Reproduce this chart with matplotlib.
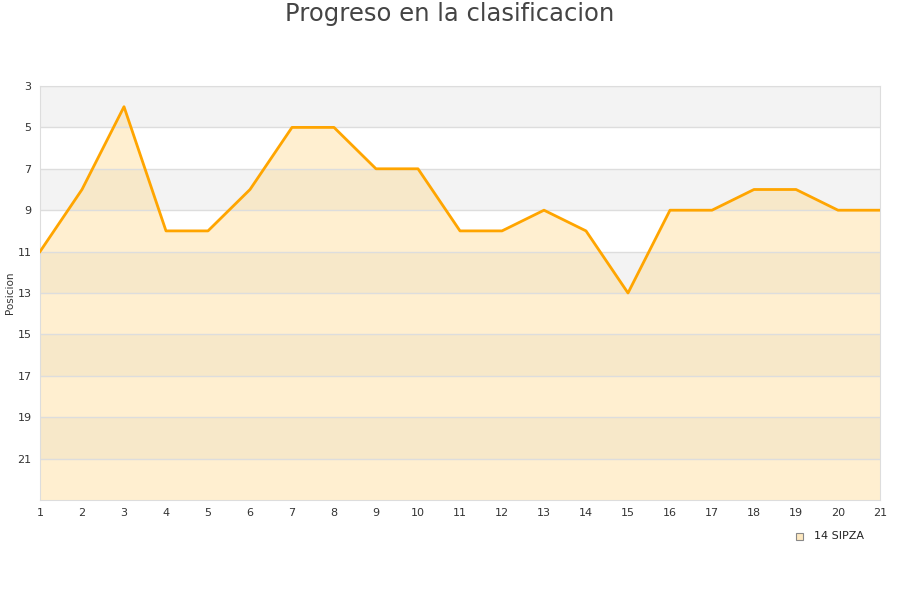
import matplotlib
matplotlib.use("Agg")
import matplotlib.pyplot as plt
from matplotlib.patches import Rectangle

jornadas = list(range(1, 22))
posicion = [11, 8, 4, 10, 10, 8, 5, 5, 7, 7, 10, 10, 9, 10, 13, 9, 9, 8, 8, 9, 9]
yticks = [3, 5, 7, 9, 11, 13, 15, 17, 19, 21]
equipo = "14 SIPZA"

fig = plt.figure(figsize=(9, 6), dpi=100)
ax = fig.add_axes([40 / 900, 1 - 500 / 600, 840 / 900, 414 / 600])

# bandas de fondo alternas
for y0 in range(3, 23, 4):
    ax.axhspan(y0, y0 + 2, color="#f3f3f3", zorder=0, lw=0)

ax.fill_between(jornadas, posicion, 23, color="#ffd98a", alpha=0.4, zorder=1, lw=0)
ax.plot(jornadas, posicion, color="#ffa500", lw=2, zorder=3)

ax.set_xlim(1, 21)
ax.set_ylim(23, 3)
ax.set_xticks(jornadas)
ax.set_yticks(yticks)
ax.grid(axis="y", color="#dddddd", lw=1, zorder=2)
ax.set_axisbelow(False)
for s in ax.spines.values():
    s.set_color("#dddddd")
ax.tick_params(length=0, labelsize=8, colors="#333333", pad=6)
ax.set_ylabel("Posicion", fontsize=7.5, color="#333333")
ax.yaxis.set_label_coords(-25 / 840, 0.5)

fig.text(0.5, 0.997, "Progreso en la clasificacion", ha="center", va="top",
         fontsize=17.5, color="#444444")

fig.patches.append(Rectangle((796 / 900, 1 - 540 / 600), 7 / 900, 7 / 600,
                             transform=fig.transFigure, facecolor="#fde8c0",
                             edgecolor="#888888", lw=0.8))
fig.text(814 / 900, 1 - 536 / 600, equipo, fontsize=8, va="center", color="#222222")

fig.savefig("out.png", dpi=100)
